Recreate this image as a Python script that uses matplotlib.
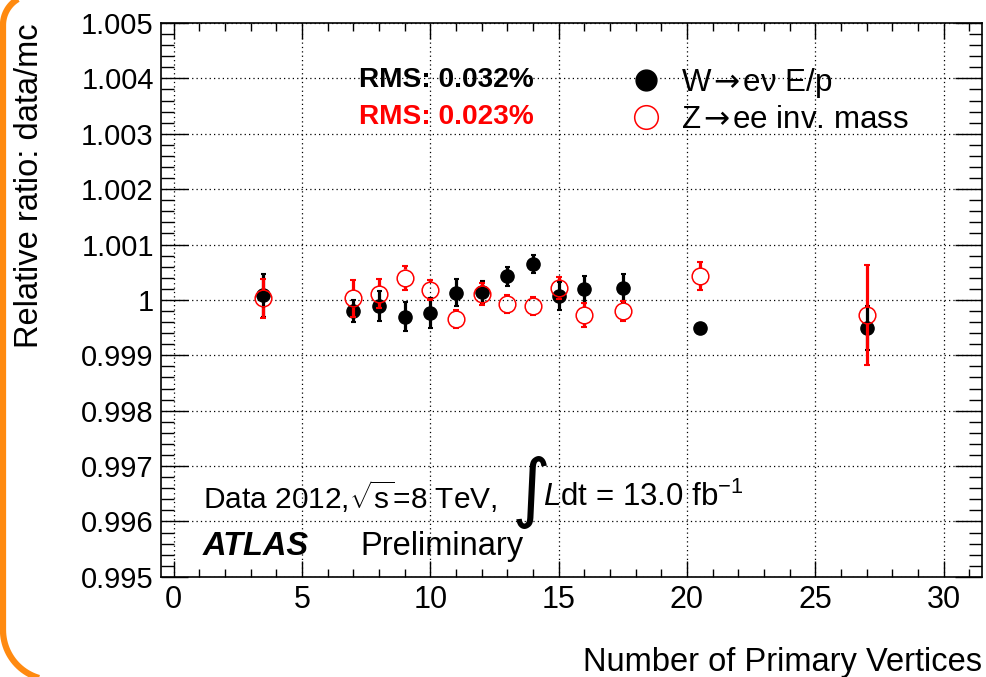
import numpy as np
import matplotlib
matplotlib.use("Agg")
import matplotlib.pyplot as plt
from matplotlib.lines import Line2D
from matplotlib.path import Path
from matplotlib.patches import PathPatch
from matplotlib.ticker import MultipleLocator, FuncFormatter

plt.rcParams['font.family'] = ['Liberation Sans', 'DejaVu Sans']
plt.rcParams['mathtext.fontset'] = 'custom'
plt.rcParams['mathtext.rm'] = 'Liberation Sans'
plt.rcParams['mathtext.it'] = 'Liberation Sans:italic'
plt.rcParams['mathtext.bf'] = 'Liberation Sans:bold'
plt.rcParams['mathtext.sf'] = 'DejaVu Sans'

# W->enu E/p
w_npv = [3.5, 7, 8, 9, 10, 11, 12, 13, 14, 15, 16, 17.5, 20.5, 27]
w_ratio = [1.00008, 0.99980, 0.99989, 0.99970, 0.99977, 1.00013, 1.00014,
           1.00043, 1.00065, 1.00007, 1.00019, 1.00022, 0.99949, 0.99949]
w_err = [0.00038, 0.00019, 0.00027, 0.00026, 0.00027, 0.00024, 0.00020,
         0.00017, 0.00017, 0.00026, 0.00024, 0.00025, 0.00005, 0.00040]

# Z->ee invariant mass
z_npv = [3.5, 7, 8, 9, 10, 11, 12, 13, 14, 15, 16, 17.5, 20.5, 27]
z_ratio = [1.00003, 1.00003, 1.00011, 1.00040, 1.00018, 0.99965, 1.00011,
           0.99992, 0.99989, 1.00021, 0.99973, 0.99980, 1.00043, 0.99973]
z_err = [0.00035, 0.00033, 0.00026, 0.00022, 0.00018, 0.00016, 0.00020,
         0.00016, 0.00016, 0.00020, 0.00022, 0.00018, 0.00025, 0.00090]

y_ticks = np.arange(0.995, 1.0051, 0.001)
x_ticks = np.arange(0, 31, 5)

W, H = 986, 677
fig = plt.figure(figsize=(W / 100, H / 100), dpi=100)
ax = fig.add_axes([0.163, 0.148, 0.833, 0.818])

# orange slide frame (left edge of a rounded box, in pixels from top-left)
def arc(cx, cy, r, a0, a1):
    t = np.radians(np.linspace(a0, a1, 30))
    return list(zip(cx + r * np.cos(t), cy + r * np.sin(t)))

pts = [(1300, -5)] + arc(33, 25, 30, 270, 180) + arc(53, 630, 50, 180, 90) + [(1300, 680)]
pts = [(x, H - y) for x, y in pts]
frame = PathPatch(Path(pts), transform=None, fill=False, edgecolor='#ff8a10',
                  lw=4.5, zorder=0)
fig.patches.append(frame)

ax.errorbar(w_npv, w_ratio, yerr=w_err, fmt='o', color='black', ms=9.5,
            elinewidth=2.3, capsize=1.8, capthick=1.5, zorder=3)

# red bars are not drawn inside the open marker
gap = 0.00015
zx = np.array(z_npv)
zy = np.array(z_ratio)
ze = np.array(z_err)
m = ze > gap
ax.vlines(zx[m], zy[m] + gap, zy[m] + ze[m], color='red', lw=2.3, zorder=4)
ax.vlines(zx[m], zy[m] - ze[m], zy[m] - gap, color='red', lw=2.3, zorder=4)
ax.plot(zx, zy + ze, '_', color='red', ms=5, mew=1.5, zorder=4)
ax.plot(zx, zy - ze, '_', color='red', ms=5, mew=1.5, zorder=4)
ax.plot(zx, zy, 'o', mfc='none', mec='red', ms=12, mew=1.1, zorder=5)

ax.set_xlim(-0.5, 31.5)
ax.set_ylim(0.995, 1.005)
ax.set_xticks(x_ticks)
ax.set_yticks(y_ticks)
ax.xaxis.set_minor_locator(MultipleLocator(1))
ax.yaxis.set_minor_locator(MultipleLocator(0.0002))
ax.yaxis.set_major_formatter(FuncFormatter(lambda v, p: f"{v:.3f}".rstrip('0').rstrip('.')))
ax.tick_params(axis='both', which='both', direction='in', top=True, right=True, width=1.0)
ax.tick_params(axis='x', which='major', length=11.5, pad=6, labelsize=22)
ax.tick_params(axis='x', which='minor', length=5.8)
ax.tick_params(axis='y', which='major', length=19.5, pad=5, labelsize=21)
ax.tick_params(axis='y', which='minor', length=9.5)
for s in ax.spines.values():
    s.set_linewidth(1.2)
ax.grid(True, which='major', color='black', linestyle=(0, (1, 2.5)), lw=0.9)
ax.set_axisbelow(True)

ax.set_xlabel("Number of Primary Vertices", fontsize=23.5, loc='right')
ax.xaxis.set_label_coords(1.0, -0.126)
ax.set_ylabel("Relative ratio: data/mc", fontsize=23.5, loc='top')
ax.yaxis.set_label_coords(-0.141, 1.0)

ax.text(0.242, 0.897, "RMS: 0.032%", transform=ax.transAxes, fontsize=20.2,
        fontweight='bold', color='black', va='center', ha='left')
ax.text(0.242, 0.831, "RMS: 0.023%", transform=ax.transAxes, fontsize=20.2,
        fontweight='bold', color='red', va='center', ha='left')

arrow = r"$\hspace{-0.08}\mathsf{\rightarrow}\hspace{-0.08}$"
handles = [Line2D([], [], ls='none', marker='o', color='black', ms=15),
           Line2D([], [], ls='none', marker='o', mfc='none', mec='red', ms=17, mew=1.1)]
ax.legend(handles, ["W" + arrow + "e\u03bd E/p", "Z" + arrow + "ee inv. mass"],
          loc='upper left', bbox_to_anchor=(0.572, 0.923), frameon=False, fontsize=22.5,
          handlelength=1.0, handletextpad=0.6, labelspacing=0.18, borderpad=0,
          borderaxespad=0)

ax.text(0.051, 0.144, r"Data 2012,$\sqrt{\mathrm{s}}$=8 TeV,", transform=ax.transAxes,
        fontsize=21.5, va='center', ha='left')
ax.text(0.427, 0.152, "\u222b", transform=ax.transAxes, fontsize=54,
        va='center', ha='left', family='DejaVu Sans')
ax.text(0.466, 0.144, r"$L$dt = 13.0 fb$^{-1}$", transform=ax.transAxes,
        fontsize=22.5, va='center', ha='left')
ax.text(0.051, 0.054, "ATLAS", transform=ax.transAxes, fontsize=23.5,
        fontweight='bold', style='italic', va='center', ha='left')
ax.text(0.243, 0.054, "Preliminary", transform=ax.transAxes, fontsize=23.5,
        va='center', ha='left')

fig.savefig("out.png", dpi=100)
